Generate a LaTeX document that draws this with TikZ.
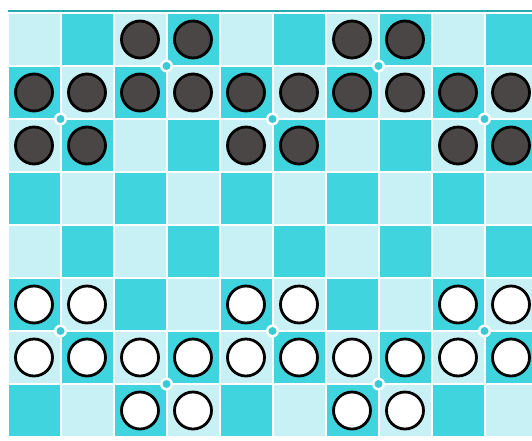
\documentclass[tikz,border=0pt]{standalone}
\definecolor{darkc}{HTML}{3FD4DE}
\definecolor{lightc}{HTML}{C8F1F5}
\definecolor{topline}{HTML}{26AAB2}
\definecolor{dotc}{HTML}{3CC9D6}
\definecolor{blackpc}{HTML}{4A4646}
\tikzset{
  bpiece/.style={circle, draw=black, line width=2.1pt, fill=blackpc, minimum size=37pt*0.75, inner sep=0pt},
  wpiece/.style={circle, draw=black, line width=2.1pt, fill=white, minimum size=37pt*0.75, inner sep=0pt},
  ring/.style={circle, fill=white, minimum size=13pt*0.75, inner sep=0pt},
  cdot/.style={circle, fill=dotc, minimum size=8pt*0.75, inner sep=0pt}
}
\begin{document}
\begin{tikzpicture}[x=0.75pt,y=-0.75pt]
\useasboundingbox (0,0) rectangle (532,440);
\fill[white] (0,0) rectangle (532,440);
\begin{scope}
\clip (0,0) rectangle (532,440);
% top line
\fill[topline] (7.5,9.5) rectangle (540,12);
% squares
\foreach \r in {0,...,7}{
  \foreach \c in {0,...,9}{
    \pgfmathtruncatemacro{\p}{mod(\r+\c,2)}
    \ifnum\p=1
      \fill[darkc] ({7.5+53*\c+1},{13+53*\r+1}) rectangle ({7.5+53*\c+52},{13+53*\r+52});
    \else
      \fill[lightc] ({7.5+53*\c+1},{13+53*\r+1}) rectangle ({7.5+53*\c+52},{13+53*\r+52});
    \fi
  }
}
% dots at corners
\foreach \c/\r [count=\i] in {3/1,7/1,1/2,5/2,9/2,1/6,5/6,9/6,3/7,7/7}{
  \node[ring] (r\i) at ({7.5+53*\c},{13+53*\r}) {};
  \node[cdot] (d\i) at ({7.5+53*\c},{13+53*\r}) {};
}
% black pieces
\foreach \r/\c in {0/2,0/3,0/6,0/7,
  1/0,1/1,1/2,1/3,1/4,1/5,1/6,1/7,1/8,1/9,
  2/0,2/1,2/4,2/5,2/8,2/9}{
  \node[bpiece] (b\r\c) at ({7.5+53*\c+26.5},{13+53*\r+26.5}) {};
}
% white pieces
\foreach \r/\c in {5/0,5/1,5/4,5/5,5/8,5/9,
  6/0,6/1,6/2,6/3,6/4,6/5,6/6,6/7,6/8,6/9,
  7/2,7/3,7/6,7/7}{
  \node[wpiece] (w\r\c) at ({7.5+53*\c+26.5},{13+53*\r+26.5}) {};
}
\end{scope}
\end{tikzpicture}
\end{document}
